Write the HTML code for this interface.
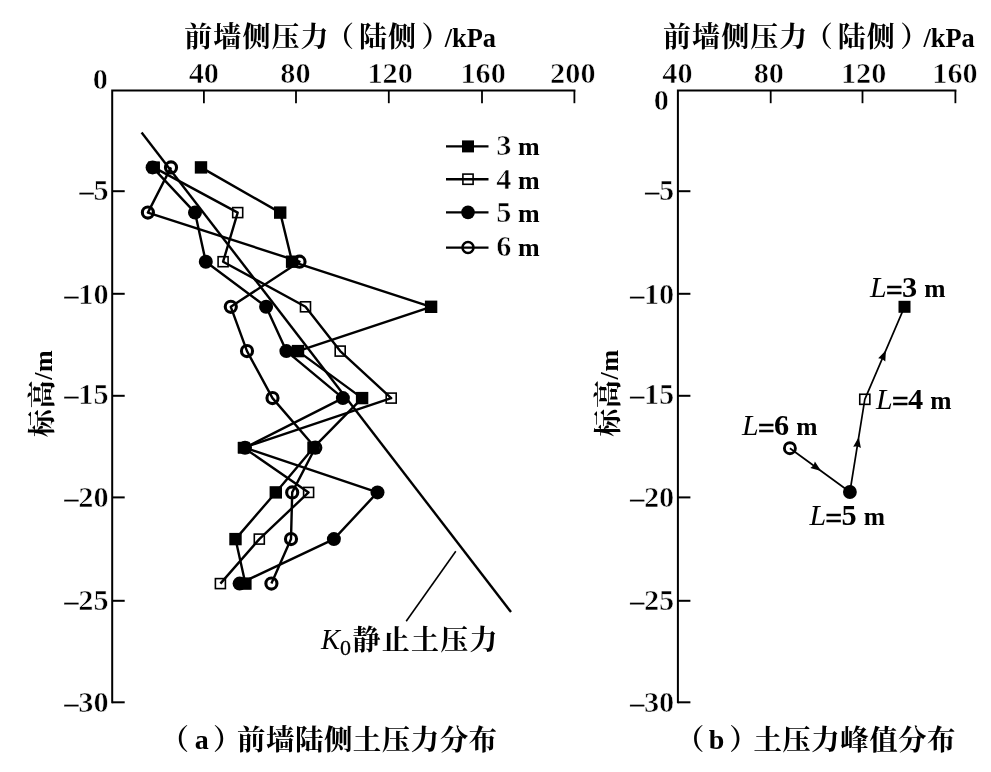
<!DOCTYPE html>
<html lang="zh"><head><meta charset="utf-8"><title>前墙侧压力</title>
<style>html,body{margin:0;padding:0;background:#fff}body{width:991px;height:772px;overflow:hidden}</style></head>
<body>
<svg width="991" height="772" viewBox="0 0 991 772" style="display:block;font-family:'Liberation Serif','Noto Serif CJK SC',serif;font-weight:bold;fill:#000">
<rect width="991" height="772" fill="#fff"/>
<path d="M112.2 703.3 V90.6 H575.4" fill="none" stroke="#000" stroke-width="2.0"/>
<line x1="203.9" y1="90.6" x2="203.9" y2="103.19999999999999" stroke="#000" stroke-width="1.8"/>
<line x1="296.0" y1="90.6" x2="296.0" y2="103.19999999999999" stroke="#000" stroke-width="1.8"/>
<line x1="388.8" y1="90.6" x2="388.8" y2="103.19999999999999" stroke="#000" stroke-width="1.8"/>
<line x1="482.0" y1="90.6" x2="482.0" y2="103.19999999999999" stroke="#000" stroke-width="1.8"/>
<line x1="574.4" y1="90.6" x2="574.4" y2="103.19999999999999" stroke="#000" stroke-width="1.8"/>
<line x1="112.2" y1="191.2" x2="124.7" y2="191.2" stroke="#000" stroke-width="2.0"/>
<line x1="112.2" y1="293.8" x2="124.7" y2="293.8" stroke="#000" stroke-width="2.0"/>
<line x1="112.2" y1="395.8" x2="124.7" y2="395.8" stroke="#000" stroke-width="2.0"/>
<line x1="112.2" y1="497.4" x2="124.7" y2="497.4" stroke="#000" stroke-width="2.0"/>
<line x1="112.2" y1="600.8" x2="124.7" y2="600.8" stroke="#000" stroke-width="2.0"/>
<line x1="112.2" y1="702.3" x2="124.7" y2="702.3" stroke="#000" stroke-width="2.0"/>
<g font-size="30.3" text-anchor="middle" stroke="#fff" stroke-width="0.6">
<text transform="translate(203.8 82.9) scale(1.0 1)">40</text>
<text transform="translate(295.5 82.9) scale(1.0 1)">80</text>
<text transform="translate(390.1 82.9) scale(1.0 1)">120</text>
<text transform="translate(483.1 82.9) scale(1.0 1)">160</text>
<text transform="translate(572.8 82.9) scale(1.0 1)">200</text>
</g>
<g font-size="30.3" text-anchor="end" stroke="#fff" stroke-width="0.6">
<text transform="translate(107.8 88.9) scale(1.0 1)">0</text>
<text transform="translate(108.6 199.7) scale(1.0 1)"><tspan font-size="27.5" font-weight="normal" stroke="#000" stroke-width="0.3">–</tspan>5</text>
<text transform="translate(108.6 303.5) scale(1.0 1)"><tspan font-size="27.5" font-weight="normal" stroke="#000" stroke-width="0.3">–</tspan>10</text>
<text transform="translate(108.6 404.4) scale(1.0 1)"><tspan font-size="27.5" font-weight="normal" stroke="#000" stroke-width="0.3">–</tspan>15</text>
<text transform="translate(108.6 507.4) scale(1.0 1)"><tspan font-size="27.5" font-weight="normal" stroke="#000" stroke-width="0.3">–</tspan>20</text>
<text transform="translate(108.6 609.8) scale(1.0 1)"><tspan font-size="27.5" font-weight="normal" stroke="#000" stroke-width="0.3">–</tspan>25</text>
<text transform="translate(108.6 712.0) scale(1.0 1)"><tspan font-size="27.5" font-weight="normal" stroke="#000" stroke-width="0.3">–</tspan>30</text>
</g>
<text y="47.4" font-size="28" letter-spacing="1.07"><tspan x="184.3">前墙侧压力</tspan><tspan x="326.0">（</tspan><tspan x="359.0">陆侧</tspan><tspan x="421.5">）</tspan><tspan x="444.7" font-size="26.4" letter-spacing="0">/kPa</tspan></text>
<text transform="translate(52.2 393.4) rotate(-90)" text-anchor="middle" font-size="28" letter-spacing="0.7"><tspan>标高</tspan><tspan font-size="26">/m</tspan></text>
<text y="750" font-size="28.5"><tspan x="160.4">（</tspan><tspan x="194.8" y="748.8" font-size="28">a</tspan><tspan x="212.9" y="750">）</tspan><tspan x="237.1" letter-spacing="0.44">前墙陆侧土压力分布</tspan></text>
<line x1="141.6" y1="132.4" x2="511.0" y2="612.0" stroke="#000" stroke-width="2.4"/>
<line x1="455.8" y1="551.2" x2="406.2" y2="621.2" stroke="#000" stroke-width="1.6"/>
<text x="321" y="649" font-size="28"><tspan font-style="italic" font-weight="normal" font-size="28.5">K</tspan><tspan font-weight="normal" font-size="22" dy="6" stroke="#000" stroke-width="0.3">0</tspan><tspan x="352.4" y="650.1" letter-spacing="1.3">静止土压力</tspan></text>
<polyline points="201.0,167.4 280.2,212.6 292.1,261.7 431.1,306.8 298.0,351.1 362.1,398.1 313.5,447.7 275.8,492.4 235.5,539.1 245.4,583.6" fill="none" stroke="#000" stroke-width="2.4" stroke-linejoin="round"/>
<polyline points="153.8,167.4 237.7,212.6 223.1,261.7 305.5,306.8 340.2,351.1 391.2,398.1 243.8,447.7 308.6,492.4 259.3,539.1 220.4,583.6" fill="none" stroke="#000" stroke-width="2.4" stroke-linejoin="round"/>
<polyline points="152.6,167.4 195.0,212.6 205.8,261.7 266.1,306.8 286.4,351.1 342.9,398.1 245.0,447.7 377.5,492.4 333.9,539.1 239.6,583.6" fill="none" stroke="#000" stroke-width="2.4" stroke-linejoin="round"/>
<polyline points="171.0,167.4 147.9,212.6 299.5,261.7 230.8,306.8 247.0,351.1 272.5,398.1 315.3,447.7 292.2,492.4 291.0,539.1 271.4,583.6" fill="none" stroke="#000" stroke-width="2.4" stroke-linejoin="round"/>
<rect x="148.80" y="162.40" width="10.0" height="10.0" fill="none" stroke="#000" stroke-width="1.6"/>
<rect x="232.70" y="207.60" width="10.0" height="10.0" fill="none" stroke="#000" stroke-width="1.6"/>
<rect x="218.10" y="256.70" width="10.0" height="10.0" fill="none" stroke="#000" stroke-width="1.6"/>
<rect x="300.50" y="301.80" width="10.0" height="10.0" fill="none" stroke="#000" stroke-width="1.6"/>
<rect x="335.20" y="346.10" width="10.0" height="10.0" fill="none" stroke="#000" stroke-width="1.6"/>
<rect x="386.20" y="393.10" width="10.0" height="10.0" fill="none" stroke="#000" stroke-width="1.6"/>
<rect x="238.80" y="442.70" width="10.0" height="10.0" fill="none" stroke="#000" stroke-width="1.6"/>
<rect x="303.60" y="487.40" width="10.0" height="10.0" fill="none" stroke="#000" stroke-width="1.6"/>
<rect x="254.30" y="534.10" width="10.0" height="10.0" fill="none" stroke="#000" stroke-width="1.6"/>
<rect x="215.40" y="578.60" width="10.0" height="10.0" fill="none" stroke="#000" stroke-width="1.6"/>
<circle cx="171.00" cy="167.40" r="5.55" fill="none" stroke="#000" stroke-width="3.1"/>
<circle cx="147.90" cy="212.60" r="5.55" fill="none" stroke="#000" stroke-width="3.1"/>
<circle cx="299.50" cy="261.70" r="5.55" fill="none" stroke="#000" stroke-width="3.1"/>
<circle cx="230.80" cy="306.80" r="5.55" fill="none" stroke="#000" stroke-width="3.1"/>
<circle cx="247.00" cy="351.10" r="5.55" fill="none" stroke="#000" stroke-width="3.1"/>
<circle cx="272.50" cy="398.10" r="5.55" fill="none" stroke="#000" stroke-width="3.1"/>
<circle cx="315.30" cy="447.70" r="5.55" fill="none" stroke="#000" stroke-width="3.1"/>
<circle cx="292.20" cy="492.40" r="5.55" fill="none" stroke="#000" stroke-width="3.1"/>
<circle cx="291.00" cy="539.10" r="5.55" fill="none" stroke="#000" stroke-width="3.1"/>
<circle cx="271.40" cy="583.60" r="5.55" fill="none" stroke="#000" stroke-width="3.1"/>
<rect x="194.80" y="161.20" width="12.4" height="12.4" fill="#000"/>
<rect x="274.00" y="206.40" width="12.4" height="12.4" fill="#000"/>
<rect x="285.90" y="255.50" width="12.4" height="12.4" fill="#000"/>
<rect x="424.90" y="300.60" width="12.4" height="12.4" fill="#000"/>
<rect x="291.80" y="344.90" width="12.4" height="12.4" fill="#000"/>
<rect x="355.90" y="391.90" width="12.4" height="12.4" fill="#000"/>
<rect x="307.30" y="441.50" width="12.4" height="12.4" fill="#000"/>
<rect x="269.60" y="486.20" width="12.4" height="12.4" fill="#000"/>
<rect x="229.30" y="532.90" width="12.4" height="12.4" fill="#000"/>
<rect x="239.20" y="577.40" width="12.4" height="12.4" fill="#000"/>
<rect x="148.30" y="161.60" width="11.6" height="11.6" fill="#000"/>
<rect x="237.70" y="441.90" width="11.6" height="11.6" fill="#000"/>
<circle cx="152.60" cy="167.40" r="7.0" fill="#000"/>
<circle cx="195.00" cy="212.60" r="7.0" fill="#000"/>
<circle cx="205.80" cy="261.70" r="7.0" fill="#000"/>
<circle cx="266.10" cy="306.80" r="7.0" fill="#000"/>
<circle cx="286.40" cy="351.10" r="7.0" fill="#000"/>
<circle cx="342.90" cy="398.10" r="7.0" fill="#000"/>
<circle cx="245.00" cy="447.70" r="7.0" fill="#000"/>
<circle cx="377.50" cy="492.40" r="7.0" fill="#000"/>
<circle cx="333.90" cy="539.10" r="7.0" fill="#000"/>
<circle cx="239.60" cy="583.60" r="7.0" fill="#000"/>
<line x1="446" y1="146.4" x2="488.5" y2="146.4" stroke="#000" stroke-width="2.4"/>
<line x1="446" y1="179.2" x2="488.5" y2="179.2" stroke="#000" stroke-width="2.4"/>
<line x1="446" y1="212.4" x2="488.5" y2="212.4" stroke="#000" stroke-width="2.4"/>
<line x1="446" y1="247.6" x2="488.5" y2="247.6" stroke="#000" stroke-width="2.4"/>
<rect x="462.00" y="140.40" width="12" height="12" fill="#000"/>
<rect x="462.90" y="174.10" width="10.2" height="10.2" fill="none" stroke="#000" stroke-width="1.6"/>
<circle cx="468.00" cy="212.40" r="6.8" fill="#000"/>
<circle cx="468.00" cy="247.60" r="5.5" fill="none" stroke="#000" stroke-width="2.5"/>
<text x="496.3" y="155.0" font-size="26"><tspan font-size="30.3" stroke="#fff" stroke-width="0.6">3</tspan><tspan> m</tspan></text>
<text x="496.3" y="188.8" font-size="26"><tspan font-size="30.3" stroke="#fff" stroke-width="0.6">4</tspan><tspan> m</tspan></text>
<text x="496.3" y="222.2" font-size="26"><tspan font-size="30.3" stroke="#fff" stroke-width="0.6">5</tspan><tspan> m</tspan></text>
<text x="496.3" y="255.6" font-size="26"><tspan font-size="30.3" stroke="#fff" stroke-width="0.6">6</tspan><tspan> m</tspan></text>
<path d="M677.9 703.3 V90.6 H956.4" fill="none" stroke="#000" stroke-width="2.0"/>
<line x1="770.7" y1="90.6" x2="770.7" y2="103.19999999999999" stroke="#000" stroke-width="1.8"/>
<line x1="862.5" y1="90.6" x2="862.5" y2="103.19999999999999" stroke="#000" stroke-width="1.8"/>
<line x1="955.4" y1="90.6" x2="955.4" y2="103.19999999999999" stroke="#000" stroke-width="1.8"/>
<line x1="677.9" y1="191.2" x2="690.4" y2="191.2" stroke="#000" stroke-width="2.0"/>
<line x1="677.9" y1="293.8" x2="690.4" y2="293.8" stroke="#000" stroke-width="2.0"/>
<line x1="677.9" y1="395.8" x2="690.4" y2="395.8" stroke="#000" stroke-width="2.0"/>
<line x1="677.9" y1="497.4" x2="690.4" y2="497.4" stroke="#000" stroke-width="2.0"/>
<line x1="677.9" y1="600.8" x2="690.4" y2="600.8" stroke="#000" stroke-width="2.0"/>
<line x1="677.9" y1="702.3" x2="690.4" y2="702.3" stroke="#000" stroke-width="2.0"/>
<g font-size="30.3" text-anchor="middle" stroke="#fff" stroke-width="0.6">
<text transform="translate(677.4 82.9) scale(1.0 1)">40</text>
<text transform="translate(768.8 82.9) scale(1.0 1)">80</text>
<text transform="translate(863.6 82.9) scale(1.0 1)">120</text>
<text transform="translate(955.0 82.9) scale(1.0 1)">160</text>
</g>
<g font-size="30.3" text-anchor="end" stroke="#fff" stroke-width="0.6">
<text transform="translate(669.0 110.0) scale(1.0 1)">0</text>
<text transform="translate(674.2 199.7) scale(1.0 1)"><tspan font-size="27.5" font-weight="normal" stroke="#000" stroke-width="0.3">–</tspan>5</text>
<text transform="translate(674.2 303.5) scale(1.0 1)"><tspan font-size="27.5" font-weight="normal" stroke="#000" stroke-width="0.3">–</tspan>10</text>
<text transform="translate(674.2 404.4) scale(1.0 1)"><tspan font-size="27.5" font-weight="normal" stroke="#000" stroke-width="0.3">–</tspan>15</text>
<text transform="translate(674.2 507.4) scale(1.0 1)"><tspan font-size="27.5" font-weight="normal" stroke="#000" stroke-width="0.3">–</tspan>20</text>
<text transform="translate(674.2 609.8) scale(1.0 1)"><tspan font-size="27.5" font-weight="normal" stroke="#000" stroke-width="0.3">–</tspan>25</text>
<text transform="translate(674.2 712.0) scale(1.0 1)"><tspan font-size="27.5" font-weight="normal" stroke="#000" stroke-width="0.3">–</tspan>30</text>
</g>
<text y="47.4" font-size="28" letter-spacing="1.07"><tspan x="663.0">前墙侧压力</tspan><tspan x="804.7">（</tspan><tspan x="837.7">陆侧</tspan><tspan x="900.2">）</tspan><tspan x="923.4" font-size="26.4" letter-spacing="0">/kPa</tspan></text>
<text transform="translate(618.4 393.0) rotate(-90)" text-anchor="middle" font-size="28" letter-spacing="0.7"><tspan>标高</tspan><tspan font-size="26">/m</tspan></text>
<text y="750" font-size="28.5"><tspan x="675.8">（</tspan><tspan x="708.8" y="748.8" font-size="28">b</tspan><tspan x="729.3" y="750">）</tspan><tspan x="753.4" letter-spacing="0.44">土压力峰值分布</tspan></text>
<polyline points="789.9,448.2 849.9,492.0 864.8,399.3 904.5,306.8" fill="none" stroke="#000" stroke-width="1.7" stroke-linejoin="round"/>
<polygon points="821.1,471.0 810.3,467.9 813.5,465.4 814.9,461.6" fill="#000"/>
<polygon points="858.8,436.9 860.9,447.9 857.3,446.3 853.2,446.7" fill="#000"/>
<polygon points="885.9,350.2 885.3,361.4 882.2,358.9 878.2,358.3" fill="#000"/>
<rect x="898.50" y="300.80" width="12" height="12" fill="#000"/>
<rect x="859.75" y="394.25" width="10.1" height="10.1" fill="none" stroke="#000" stroke-width="1.6"/>
<circle cx="849.90" cy="492.00" r="6.9" fill="#000"/>
<circle cx="789.90" cy="448.20" r="5.5" fill="none" stroke="#000" stroke-width="2.9"/>
<g font-size="26"><text x="870" y="297.0" font-style="italic" font-weight="normal" font-size="30">L</text><text x="885.8" y="299.8" font-size="30" stroke="#000" stroke-width="0.4">=</text><g font-size="30.3"><text transform="translate(902.0 297.0) scale(1.0 1)">3</text></g><text x="924.2" y="297.0" font-size="25.5">m</text></g>
<g font-size="26"><text x="876" y="408.6" font-style="italic" font-weight="normal" font-size="30">L</text><text x="891.8" y="411.4" font-size="30" stroke="#000" stroke-width="0.4">=</text><g font-size="30.3"><text transform="translate(908.0 408.6) scale(1.0 1)">4</text></g><text x="930.2" y="408.6" font-size="25.5">m</text></g>
<g font-size="26"><text x="809.5" y="525.0" font-style="italic" font-weight="normal" font-size="30">L</text><text x="825.3" y="527.8" font-size="30" stroke="#000" stroke-width="0.4">=</text><g font-size="30.3"><text transform="translate(841.5 525.0) scale(1.0 1)">5</text></g><text x="863.7" y="525.0" font-size="25.5">m</text></g>
<g font-size="26"><text x="742.0" y="434.8" font-style="italic" font-weight="normal" font-size="30">L</text><text x="757.8" y="437.6" font-size="30" stroke="#000" stroke-width="0.4">=</text><g font-size="30.3"><text transform="translate(774.0 434.8) scale(1.0 1)">6</text></g><text x="796.2" y="434.8" font-size="25.5">m</text></g>
</svg>
</body></html>
